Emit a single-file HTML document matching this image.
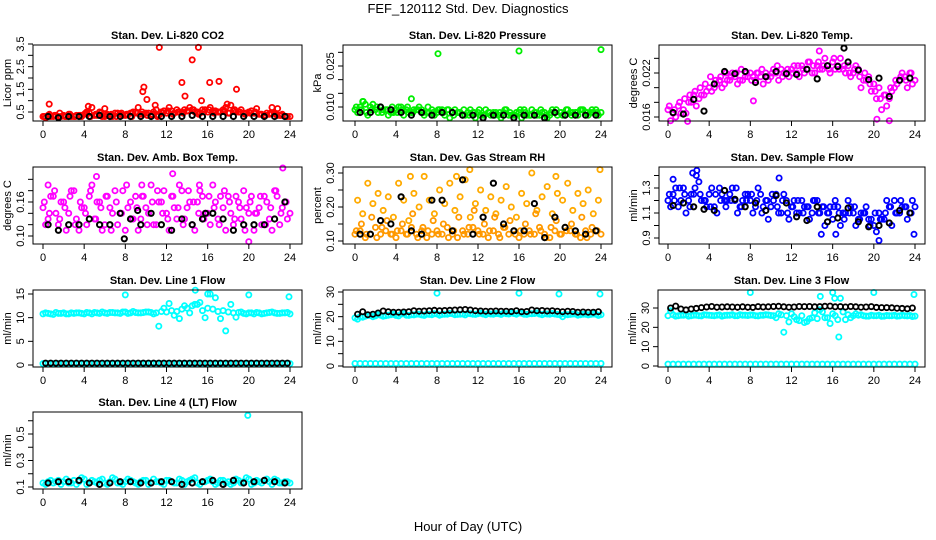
<!DOCTYPE html>
<html><head><meta charset="utf-8">
<style>
html,body{margin:0;padding:0;background:#fff;}
svg{display:block;font-family:"Liberation Sans",Arial,sans-serif;}
</style></head>
<body>
<svg id="chart" width="936" height="540" viewBox="0 0 936 540">
<text x="468" y="13" text-anchor="middle" font-size="13">FEF_120112  Std. Dev. Diagnostics</text>
<text x="468" y="531" text-anchor="middle" font-size="13">Hour of Day (UTC)</text>
</svg>
<script>
// ---- shared x categories (hours) ----
const hoursA = [0,0.5,1,1.5,2,2.5,3,3.5,4,4.5,5,5.5,6,6.5,7,7.5,8,8.5,9,9.5,10,10.5,11,11.5,12,12.5,13,13.5,14,14.5,15,15.5,16,16.5,17,17.5,18,18.5,19,19.5,20,20.5,21,21.5,22,22.5,23,23.5,24];
const hoursB = [0.25,0.75,1.25,1.75,2.25,2.75,3.25,3.75,4.25,4.75,5.25,5.75,6.25,6.75,7.25,7.75,8.25,8.75,9.25,9.75,10.25,10.75,11.25,11.75,12.25,12.75,13.25,13.75,14.25,14.75,15.25,15.75,16.25,16.75,17.25,17.75,18.25,18.75,19.25,19.75,20.25,20.75,21.25,21.75,22.25,22.75,23.25,23.75];
const hoursC = [0.125,0.625,1.125,1.625,2.125,2.625,3.125,3.625,4.125,4.625,5.125,5.625,6.125,6.625,7.125,7.625,8.125,8.625,9.125,9.625,10.125,10.625,11.125,11.625,12.125,12.625,13.125,13.625,14.125,14.625,15.125,15.625,16.125,16.625,17.125,17.625,18.125,18.625,19.125,19.625,20.125,20.625,21.125,21.625,22.125,22.625,23.125,23.625];
const hoursK = [0.5,1.5,2.5,3.5,4.5,5.5,6.5,7.5,8.5,9.5,10.5,11.5,12.5,13.5,14.5,15.5,16.5,17.5,18.5,19.5,20.5,21.5,22.5,23.5];
const xTickLabels = [0,4,8,12,16,20,24];

// ---- P1 CO2 ----
const co2A = [0.3,0.35,0.3,0.3,0.35,0.4,0.3,0.35,0.4,0.45,0.35,0.5,0.3,0.35,0.45,0.4,0.35,0.45,0.5,0.4,0.45,0.35,0.6,0.5,0.45,0.55,0.6,0.5,0.55,0.6,0.5,0.6,0.5,0.55,0.5,0.6,0.45,0.55,0.5,0.45,0.5,0.45,0.4,0.35,0.4,0.45,0.35,0.3,0.3];
const co2B = [0.25,0.3,0.35,0.3,0.3,0.3,0.35,0.3,0.5,0.7,0.35,0.3,0.4,0.3,0.45,0.35,0.4,0.5,0.7,0.4,0.45,0.5,0.35,0.55,0.7,0.45,0.5,0.6,0.7,0.5,0.45,0.6,0.7,0.55,0.5,0.7,0.8,0.5,0.6,0.45,0.55,0.65,0.4,0.45,0.7,0.35,0.4,0.3];
const co2C = [0.3,0.4,0.35,0.45,0.3,0.4,0.3,0.35,0.45,0.3,0.4,0.45,0.35,0.4,0.3,0.45,0.4,0.3,0.45,0.5,0.35,0.4,0.3,0.45,0.55,0.4,0.5,0.45,0.55,0.6,0.4,0.5,0.6,0.45,0.5,0.55,0.45,0.6,0.5,0.4,0.45,0.5,0.4,0.35,0.45,0.4,0.35,0.3];
const co2K = [0.3,0.25,0.3,0.3,0.3,0.35,0.3,0.3,0.3,0.3,0.3,0.3,0.3,0.3,0.35,0.3,0.3,0.3,0.3,0.3,0.3,0.3,0.3,0.3];
const co2OutX = [11.3,15.1,14.5,13.5,16.2,17.1,9.8,9.7,18.8,13.8,10.1,15.4,0.6,10.9,4.4,6,17.9,22.8];
const co2OutY = [3.35,3.35,2.8,1.8,1.8,1.85,1.6,1.4,1.5,1.2,1.05,1.0,0.85,0.8,0.75,0.65,0.85,0.65];

// ---- P2 Pressure ----
const prA = [0.009,0.010,0.011,0.010,0.009,0.010,0.009,0.008,0.009,0.010,0.009,0.008,0.009,0.009,0.008,0.009,0.008,0.009,0.009,0.008,0.008,0.007,0.008,0.008,0.008,0.007,0.008,0.008,0.007,0.008,0.007,0.007,0.008,0.009,0.007,0.008,0.007,0.008,0.007,0.008,0.008,0.007,0.008,0.008,0.009,0.008,0.008,0.009,0.008];
const prB = [0.008,0.012,0.007,0.011,0.008,0.009,0.007,0.008,0.010,0.007,0.008,0.009,0.010,0.007,0.008,0.007,0.009,0.007,0.006,0.009,0.008,0.007,0.009,0.006,0.007,0.009,0.007,0.008,0.006,0.009,0.007,0.008,0.006,0.007,0.009,0.007,0.008,0.006,0.009,0.007,0.007,0.009,0.008,0.007,0.009,0.007,0.008,0.007];
const prC = [0.010,0.009,0.008,0.009,0.010,0.008,0.009,0.010,0.008,0.009,0.010,0.008,0.009,0.008,0.010,0.008,0.009,0.008,0.009,0.007,0.008,0.009,0.007,0.008,0.009,0.007,0.008,0.007,0.008,0.009,0.008,0.007,0.009,0.008,0.007,0.008,0.009,0.007,0.008,0.009,0.008,0.009,0.007,0.008,0.009,0.008,0.009,0.008];
const prK = [0.008,0.008,0.010,0.009,0.008,0.007,0.008,0.007,0.008,0.008,0.007,0.007,0.006,0.007,0.007,0.006,0.007,0.007,0.006,0.008,0.007,0.007,0.007,0.007];
const prOutX = [8.1,16,24,5.5,0.8];
const prOutY = [0.0295,0.0305,0.031,0.013,0.012];

// ---- P3 Li-820 Temp ----
const ltA = [0.017,0.0165,0.0175,0.017,0.018,0.019,0.0185,0.019,0.020,0.020,0.021,0.0205,0.021,0.0215,0.021,0.0215,0.022,0.021,0.0215,0.022,0.0215,0.022,0.0225,0.022,0.0225,0.022,0.023,0.0225,0.022,0.023,0.0225,0.023,0.0235,0.023,0.0225,0.023,0.022,0.0225,0.021,0.0215,0.0205,0.020,0.019,0.0185,0.020,0.021,0.0215,0.022,0.021];
const ltB = [0.0155,0.016,0.0165,0.0165,0.018,0.0175,0.019,0.0195,0.0195,0.0205,0.020,0.021,0.022,0.0205,0.021,0.0215,0.0215,0.022,0.0205,0.021,0.0225,0.021,0.022,0.0215,0.023,0.0215,0.022,0.0235,0.022,0.0225,0.024,0.022,0.0225,0.024,0.022,0.0215,0.023,0.020,0.021,0.0195,0.0185,0.017,0.0175,0.0195,0.0205,0.022,0.020,0.0205];
const ltC = [0.0175,0.017,0.018,0.0185,0.019,0.0195,0.020,0.0205,0.0215,0.021,0.0215,0.022,0.0215,0.022,0.0225,0.022,0.021,0.022,0.0225,0.0215,0.022,0.023,0.0215,0.0225,0.022,0.023,0.0225,0.0235,0.023,0.0235,0.023,0.0225,0.024,0.0225,0.023,0.022,0.0225,0.0215,0.022,0.0205,0.0195,0.0185,0.019,0.020,0.021,0.0215,0.021,0.022];
const ltK = [0.0166,0.0164,0.0184,0.0168,0.0205,0.0222,0.0219,0.0222,0.0207,0.0215,0.0222,0.0219,0.0218,0.0225,0.0212,0.0230,0.0229,0.0235,0.0224,0.0211,0.0213,0.0188,0.0210,0.0213];
const ltOutX = [1.9,20.3,21.5,8.3,14.7];
const ltOutY = [0.0154,0.0157,0.0155,0.0182,0.0250];
const ltKOutX = [17.1];
const ltKOutY = [0.0254];

// ---- P4 Amb Box Temp ----
const abA = [0.15,0.13,0.17,0.12,0.16,0.14,0.18,0.11,0.15,0.17,0.13,0.16,0.12,0.15,0.18,0.14,0.11,0.16,0.17,0.13,0.15,0.19,0.12,0.16,0.14,0.17,0.13,0.18,0.15,0.12,0.16,0.17,0.14,0.19,0.13,0.15,0.17,0.12,0.16,0.18,0.14,0.11,0.15,0.17,0.13,0.18,0.12,0.16,0.14];
const abB = [0.12,0.17,0.14,0.16,0.11,0.18,0.13,0.15,0.12,0.19,0.16,0.11,0.17,0.14,0.12,0.18,0.15,0.13,0.11,0.17,0.14,0.12,0.16,0.18,0.11,0.15,0.19,0.13,0.16,0.11,0.18,0.14,0.12,0.16,0.17,0.11,0.14,0.17,0.13,0.15,0.17,0.14,0.12,0.16,0.11,0.17,0.15,0.13];
const abC = [0.16,0.14,0.18,0.13,0.15,0.17,0.12,0.16,0.14,0.18,0.13,0.15,0.17,0.11,0.16,0.14,0.19,0.13,0.15,0.17,0.12,0.16,0.18,0.14,0.13,0.17,0.15,0.12,0.18,0.16,0.14,0.13,0.17,0.15,0.12,0.18,0.16,0.13,0.15,0.11,0.16,0.14,0.17,0.12,0.15,0.18,0.14,0.16];
const abK = [0.12,0.11,0.12,0.12,0.13,0.12,0.12,0.14,0.13,0.12,0.14,0.12,0.11,0.13,0.12,0.13,0.14,0.13,0.11,0.12,0.12,0.12,0.13,0.16];
const abOutX = [5.2,12.6,23.3,0.5,20,9.6,15.2];
const abOutY = [0.205,0.21,0.22,0.19,0.09,0.19,0.19];
const abKOutX = [7.9,9.2,15.8];
const abKOutY = [0.095,0.145,0.14];

// ---- P5 Gas Stream RH ----
const rhA = [0.12,0.13,0.11,0.12,0.14,0.12,0.13,0.12,0.11,0.13,0.12,0.14,0.12,0.13,0.11,0.12,0.13,0.12,0.14,0.12,0.11,0.13,0.12,0.14,0.13,0.12,0.11,0.13,0.12,0.14,0.12,0.13,0.11,0.12,0.13,0.12,0.14,0.12,0.11,0.13,0.12,0.14,0.13,0.12,0.11,0.13,0.12,0.13,0.12];
const rhB = [0.22,0.18,0.27,0.21,0.24,0.19,0.23,0.17,0.27,0.22,0.16,0.24,0.20,0.29,0.22,0.18,0.25,0.21,0.27,0.19,0.23,0.28,0.17,0.21,0.25,0.19,0.23,0.18,0.22,0.26,0.20,0.17,0.24,0.21,0.30,0.19,0.23,0.26,0.18,0.24,0.22,0.27,0.19,0.24,0.21,0.25,0.18,0.22];
const rhC = [0.13,0.15,0.12,0.17,0.11,0.14,0.16,0.12,0.13,0.15,0.12,0.18,0.11,0.14,0.13,0.16,0.12,0.15,0.11,0.13,0.17,0.12,0.14,0.19,0.12,0.15,0.13,0.17,0.11,0.14,0.16,0.12,0.13,0.15,0.12,0.18,0.13,0.11,0.14,0.16,0.12,0.13,0.15,0.12,0.17,0.11,0.14,0.13];
const rhK = [0.12,0.12,0.16,0.15,0.23,0.13,0.12,0.22,0.22,0.13,0.28,0.12,0.17,0.27,0.15,0.13,0.13,0.21,0.11,0.17,0.14,0.13,0.12,0.13];
const rhOutX = [11.2,23.9,5.4,19.6,9.9];
const rhOutY = [0.31,0.31,0.29,0.29,0.29];

// ---- P6 Sample Flow ----
const sfA = [1.2,1.25,1.15,1.3,1.2,1.25,1.35,1.2,1.25,1.15,1.3,1.2,1.25,1.2,1.15,1.25,1.2,1.15,1.25,1.2,1.15,1.25,1.1,1.2,1.15,1.1,1.2,1.15,1.1,1.2,1.15,1.1,1.05,1.15,1.1,1.2,1.1,1.05,1.1,1.05,1.0,1.1,1.05,1.15,1.2,1.1,1.15,1.1,1.15];
const sfB = [1.15,1.3,1.2,1.1,1.25,1.4,1.2,1.15,1.3,1.1,1.25,1.2,1.3,1.1,1.2,1.25,1.1,1.3,1.15,1.05,1.2,1.1,1.25,1.05,1.2,1.1,1.15,1.05,1.2,1.1,1.0,1.15,1.2,1.0,1.1,1.15,1.0,1.1,1.15,1.05,0.95,1.05,1.2,1.0,1.1,1.15,1.05,1.2];
const sfC = [1.25,1.2,1.3,1.25,1.15,1.3,1.25,1.2,1.15,1.25,1.2,1.15,1.2,1.3,1.15,1.2,1.25,1.2,1.1,1.2,1.25,1.15,1.2,1.1,1.15,1.2,1.1,1.15,1.2,1.1,1.15,1.1,1.15,1.1,1.05,1.1,1.15,1.05,1.1,1.0,1.1,1.05,1.1,1.15,1.1,1.2,1.15,1.1];
const sfK = [1.16,1.18,1.15,1.13,1.12,1.28,1.21,1.15,1.18,1.12,1.24,1.18,1.07,1.04,1.15,1.03,1.06,1.14,1.03,0.99,1.00,1.02,1.12,1.10];
const sfOutX = [2.8,2.4,10.8,20.5,23.9,0.5,16.3,14.9];
const sfOutY = [1.44,1.42,1.38,0.88,0.93,1.37,0.93,0.93];

// ---- P7 Line 1 Flow ----
const l1A = [10.8,10.9,10.7,10.9,11,10.8,10.9,11,10.8,11,11.1,10.9,11,11.1,11,10.9,11.2,11,11.1,11,11.2,11.1,11,11.3,11.2,11.5,11.3,11.8,12,12.5,12.8,11.5,12,11.8,11.3,11.5,11.2,11,11.1,10.9,11,10.8,11,10.9,11.1,11,10.9,11,10.8];
const l1B = [11,10.8,11.1,10.9,10.8,11,11,10.9,11.1,10.8,11,11.2,10.9,11.1,11,11.2,10.9,11.3,11,11.1,11.2,10.8,8.2,12,13,10.5,9.8,12.5,11,12.8,13.2,10,15,14.2,9.8,7.2,12.8,10.1,11.2,10.8,11,11.1,10.8,11,11.2,10.9,11,11.1];
const l1Low = [0.3,0.3,0.3,0.3,0.3,0.3,0.3,0.3,0.3,0.3,0.3,0.3,0.3,0.3,0.3,0.3,0.3,0.3,0.3,0.3,0.3,0.3,0.3,0.3,0.3,0.3,0.3,0.3,0.3,0.3,0.3,0.3,0.3,0.3,0.3,0.3,0.3,0.3,0.3,0.3,0.3,0.3,0.3,0.3,0.3,0.3,0.3,0.3,0.3];
const l1K = [0.4,0.4,0.4,0.4,0.4,0.4,0.4,0.4,0.4,0.4,0.4,0.4,0.4,0.4,0.4,0.4,0.4,0.4,0.4,0.4,0.4,0.4,0.4,0.4,0.4,0.4,0.4,0.4,0.4,0.4,0.4,0.4,0.4,0.4,0.4,0.4,0.4,0.4,0.4,0.4,0.4,0.4,0.4,0.4,0.4,0.4,0.4,0.4];
const l1OutX = [8,20,23.9,16,14.8];
const l1OutY = [14.8,14.8,14.4,15,15.8];

// ---- P8 Line 2 Flow ----
const l2A = [19.5,20,20.2,20.5,20.3,20.6,20.4,20.8,20.5,21,20.6,20.8,21,20.7,21,20.8,21.1,20.9,21,21.2,20.9,21.1,21.3,21,21.2,21.1,21.3,21,21.2,21.4,21.1,21.3,21.5,21,21.2,21.3,21.1,21.2,21,21.1,20.8,21,20.9,21.1,20.8,21,20.9,21,20.8];
const l2B = [19,19.8,20.5,20,20.8,20.2,20.6,21,20.3,21.2,20.5,20.7,21,20.5,20.9,21.2,20.6,21,21.3,20.8,21,20.7,21.2,20.9,21.4,20.8,21.1,21.3,20.9,21.2,21.5,21,21.4,20.9,21.2,21.5,20.8,21.1,21.3,20.9,20,20.8,21.1,20.6,21,20.7,21.1,20.5];
const l2Low = [1,1,1,1,1,1,1,1,1,1,1,1,1,1,1,1,1,1,1,1,1,1,1,1,1,1,1,1,1,1,1,1,1,1,1,1,1,1,1,1,1,1,1,1,1,1,1,1,1];
const l2K = [21,22,20.8,21,21.5,22.3,22,21.8,21.8,21.9,22,22.4,22.2,22.3,22.4,22.6,22.4,22.5,22.6,22.7,22.8,22.9,22.7,22.4,22.3,22.2,22.2,22.3,22.2,22.2,22.1,22.4,22,22.1,22.7,22.4,22.5,22.3,22.4,22.2,22,22.2,22.1,21.8,21.9,21.8,21.8,22];
const l2OutX = [8,16,19.9,23.9];
const l2OutY = [29.5,29.5,29.2,29.2];

// ---- P9 Line 3 Flow ----
const l3A = [26,26.5,26,26.2,25.8,26.3,26,26.5,26.2,26,26.4,26.1,26.3,26,26.5,26.2,26.4,26,26.3,26.5,26.1,25,26.5,26,27,24,26,23,25,24.5,28,25,27,24,28,26.5,26,26.3,26,25.8,26,26.2,25.8,26,26.2,25.9,26,26.1,25.8];
const l3B = [28.5,25.8,26.2,26.5,26,26.3,25.9,26.4,26.1,26.3,25.8,26.2,26.5,26,26.3,26.1,26.4,25.9,26.2,26.4,26,27,17.5,22.8,25.5,23.5,22.5,24.5,27.5,29,25,22,26,35,24,25,27,26.5,25.8,26.2,26,25.7,26.1,26,25.8,26.2,25.9,25.6];
const l3Low = [1,1,1,1,1,1,1,1,1,1,1,1,1,1,1,1,1,1,1,1,1,1,1,1,1,1,1,1,1,1,1,1,1,1,1,1,1,1,1,1,1,1,1,1,1,1,1,1,1];
const l3K = [30,31,29.5,29,29.5,29.8,30.2,30.5,30.8,30.4,30.5,30.6,30.5,30.4,30.6,30.4,30.3,30.7,30.5,30.6,30.8,30.9,30.6,30.4,30.5,30.8,30.7,30.8,30.6,30.7,30.9,31,30.6,30.7,30.5,30.8,30.6,30.4,30.5,30.7,30.3,30.2,30.2,30.1,29.9,29.8,29.6,30];
const l3OutX = [8,16,20,23.9,14.8,16.2,16.6];
const l3OutY = [38,38,38,37,36,35,15];

// ---- P10 Line 4 (LT) Flow ----
const l4A = [0.13,0.14,0.13,0.15,0.14,0.13,0.15,0.14,0.16,0.13,0.14,0.15,0.13,0.14,0.16,0.13,0.14,0.15,0.13,0.14,0.15,0.13,0.14,0.13,0.15,0.14,0.13,0.15,0.14,0.16,0.13,0.14,0.15,0.14,0.13,0.15,0.14,0.13,0.15,0.14,0.16,0.13,0.14,0.15,0.14,0.16,0.13,0.14,0.13];
const l4B = [0.12,0.15,0.14,0.12,0.16,0.13,0.12,0.17,0.12,0.15,0.13,0.16,0.12,0.17,0.13,0.12,0.16,0.14,0.12,0.15,0.12,0.16,0.14,0.12,0.15,0.13,0.16,0.12,0.15,0.17,0.12,0.14,0.16,0.12,0.15,0.13,0.12,0.16,0.13,0.17,0.12,0.15,0.13,0.16,0.12,0.15,0.13,0.14];
const l4K = [0.13,0.14,0.14,0.15,0.13,0.12,0.13,0.14,0.14,0.13,0.13,0.14,0.14,0.12,0.13,0.14,0.15,0.12,0.15,0.13,0.14,0.15,0.14,0.13];
const l4OutX = [19.9];
const l4OutY = [0.64];

const NS = 'http://www.w3.org/2000/svg';
const svg = document.getElementById('chart');
function mk(tag, attrs, parent){
  const e = document.createElementNS(NS, tag);
  for (const k in attrs) e.setAttribute(k, attrs[k]);
  (parent || svg).appendChild(e);
  return e;
}
function scale(d0, d1, p0, p1){ return v => p0 + (v - d0) * (p1 - p0) / (d1 - d0); }

function panel(cfg){
  const g = mk('g', {});
  
  
  const [L, T, R, B] = cfg.box;
  const xs = scale(0, 24, cfg.x0, cfg.x24);
  const ys = scale(cfg.yv[0], cfg.yv[1], cfg.yp[0], cfg.yp[1]);
  const t = mk('text', {x: (L+R)/2, y: T - 6, 'text-anchor':'middle', 'font-size':'11', 'font-weight':'bold'}, g);
  t.textContent = cfg.title;
  
  
  const pts = mk('g', {}, g);
  
  
  cfg.series.forEach(s => {
    s.x.forEach((xv, i) => {
      const yv = s.y[i];
      const c = mk('circle', {cx: xs(xv).toFixed(1), cy: ys(yv).toFixed(1), r: s.r || 2.6, fill: 'none', stroke: s.color, 'stroke-width': s.w || 1.8}, pts);
      
      
    });
  });
  const bx = mk('rect', {x: L, y: T, width: R-L, height: B-T, fill: 'none', stroke: '#000', 'stroke-width': 1}, g);
  
  
  const xa = mk('g', {}, g);
  
  
  xTickLabels.forEach(v => {
    const px = xs(v);
    mk('line', {x1: px, x2: px, y1: B, y2: B + 5, stroke: '#000'}, xa);
    const tl = mk('text', {x: px, y: B + 17, 'text-anchor':'middle', 'font-size':'11'}, xa);
    tl.textContent = v;
    
    
  });
  const ya = mk('g', {}, g);
  
  
  cfg.yTicks.forEach(v => {
    const py = ys(v);
    mk('line', {x1: L - 5, x2: L, y1: py, y2: py, stroke: '#000'}, ya);
  });
  cfg.yLabels.forEach(v => {
    const py = ys(parseFloat(v));
    const tl = mk('text', {x: 0, y: 0, 'text-anchor':'middle', 'font-size':'11', transform: `translate(${L - 9},${py}) rotate(-90)`}, ya);
    tl.textContent = v;
    
    
  });
  const yt = mk('text', {x: 0, y: 0, 'text-anchor':'middle', 'font-size':'11', transform: `translate(${L - 22},${(T+B)/2}) rotate(-90)`}, g);
  yt.textContent = cfg.ylab;
  
  
}

const K = '#000';
panel({name:'panel-co2', title:'Stan. Dev. Li-820 CO2', ylab:'Licor ppm', box:[33,45,302,121], x0:43, x24:290,
  yv:[0.5,3.5], yp:[112,44], yTicks:[0.5,1,1.5,2,2.5,3,3.5], yLabels:['0.5','1.5','2.5','3.5'],
  series:[{name:'co2-point',x:hoursA,y:co2A,color:'#ff0000'},{name:'co2-point',x:hoursB,y:co2B,color:'#ff0000'},
    {name:'co2-point',x:hoursC,y:co2C,color:'#ff0000'},
    {name:'co2-outlier',x:co2OutX,y:co2OutY,color:'#ff0000'},{name:'co2-hourly-point',x:hoursK,y:co2K,color:K,w:2}]});
panel({name:'panel-pressure', title:'Stan. Dev. Li-820 Pressure', ylab:'kPa', box:[343,45,612,121], x0:355, x24:601,
  yv:[0.010,0.025], yp:[107,66], yTicks:[0.010,0.015,0.020,0.025,0.030], yLabels:['0.010','0.025'],
  series:[{name:'pressure-point',x:hoursA,y:prA,color:'#00ee00'},{name:'pressure-point',x:hoursB,y:prB,color:'#00ee00'},
    {name:'pressure-point',x:hoursC,y:prC,color:'#00ee00'},
    {name:'pressure-outlier',x:prOutX,y:prOutY,color:'#00ee00'},{name:'pressure-hourly-point',x:hoursK,y:prK,color:K,w:2}]});
panel({name:'panel-li820-temp', title:'Stan. Dev. Li-820 Temp.', ylab:'degrees C', box:[659,45,925,121], x0:668, x24:915,
  yv:[0.016,0.022], yp:[117,73], yTicks:[0.016,0.018,0.020,0.022,0.024], yLabels:['0.016','0.022'],
  series:[{name:'temp-point',x:hoursA,y:ltA,color:'#ff00ff'},{name:'temp-point',x:hoursB,y:ltB,color:'#ff00ff'},
    {name:'temp-point',x:hoursC,y:ltC,color:'#ff00ff'},
    {name:'temp-outlier',x:ltOutX,y:ltOutY,color:'#ff00ff'},{name:'temp-hourly-point',x:hoursK,y:ltK,color:K,w:2},
    {name:'temp-hourly-outlier',x:ltKOutX,y:ltKOutY,color:K,w:2}]});
panel({name:'panel-amb-box-temp', title:'Stan. Dev. Amb. Box Temp.', ylab:'degrees C', box:[33,167,302,244], x0:43, x24:290,
  yv:[0.10,0.16], yp:[236,202], yTicks:[0.10,0.12,0.14,0.16,0.18,0.20], yLabels:['0.10','0.16'],
  series:[{name:'amb-point',x:hoursA,y:abA,color:'#ff00ff'},{name:'amb-point',x:hoursB,y:abB,color:'#ff00ff'},
    {name:'amb-point',x:hoursC,y:abC,color:'#ff00ff'},
    {name:'amb-outlier',x:abOutX,y:abOutY,color:'#ff00ff'},{name:'amb-hourly-point',x:hoursK,y:abK,color:K,w:2},
    {name:'amb-hourly-outlier',x:abKOutX,y:abKOutY,color:K,w:2}]});
panel({name:'panel-gas-rh', title:'Stan. Dev. Gas Stream RH', ylab:'percent', box:[343,167,612,244], x0:355, x24:601,
  yv:[0.10,0.30], yp:[241,173], yTicks:[0.10,0.15,0.20,0.25,0.30], yLabels:['0.10','0.20','0.30'],
  series:[{name:'rh-point',x:hoursA,y:rhA,color:'#ff9900'},{name:'rh-point',x:hoursB,y:rhB,color:'#ffaa00'},
    {name:'rh-point',x:hoursC,y:rhC,color:'#ff9900'},
    {name:'rh-outlier',x:rhOutX,y:rhOutY,color:'#ffaa00'},{name:'rh-hourly-point',x:hoursK,y:rhK,color:K,w:2}]});
panel({name:'panel-sample-flow', title:'Stan. Dev. Sample Flow', ylab:'ml/min', box:[659,167,925,244], x0:668, x24:915,
  yv:[0.9,1.3], yp:[238,188], yTicks:[0.9,1.0,1.1,1.2,1.3,1.4], yLabels:['0.9','1.1','1.3'],
  series:[{name:'flow-point',x:hoursA,y:sfA,color:'#0000ff'},{name:'flow-point',x:hoursB,y:sfB,color:'#0000ff'},
    {name:'flow-point',x:hoursC,y:sfC,color:'#0000ff'},
    {name:'flow-outlier',x:sfOutX,y:sfOutY,color:'#0000ff'},{name:'flow-hourly-point',x:hoursK,y:sfK,color:K,w:2}]});
panel({name:'panel-line1-flow', title:'Stan. Dev. Line 1 Flow', ylab:'ml/min', box:[33,290,302,367], x0:43, x24:290,
  yv:[0,15], yp:[365,294], yTicks:[0,5,10,15], yLabels:['0','5','10','15'],
  series:[{name:'line1-point',x:hoursA,y:l1A,color:'#00ffff'},{name:'line1-point',x:hoursB,y:l1B,color:'#00ffff'},
    {name:'line1-outlier',x:l1OutX,y:l1OutY,color:'#00ffff'},{name:'line1-low-point',x:hoursA,y:l1Low,color:'#00ffff'},
    {name:'line1-hourly-point',x:hoursB,y:l1K,color:K,w:1.8}]});
panel({name:'panel-line2-flow', title:'Stan. Dev. Line 2 Flow', ylab:'ml/min', box:[343,290,612,367], x0:355, x24:601,
  yv:[0,30], yp:[366,292], yTicks:[0,5,10,15,20,25,30], yLabels:['0','10','20','30'],
  series:[{name:'line2-point',x:hoursA,y:l2A,color:'#00ffff'},{name:'line2-point',x:hoursB,y:l2B,color:'#00ffff'},
    {name:'line2-outlier',x:l2OutX,y:l2OutY,color:'#00ffff'},{name:'line2-low-point',x:hoursA,y:l2Low,color:'#00ffff'},
    {name:'line2-hourly-point',x:hoursB,y:l2K,color:K,w:1.8}]});
panel({name:'panel-line3-flow', title:'Stan. Dev. Line 3 Flow', ylab:'ml/min', box:[658,290,925,367], x0:668, x24:915,
  yv:[0,30], yp:[366,308], yTicks:[0,10,20,30], yLabels:['0','10','20','30'],
  series:[{name:'line3-point',x:hoursA,y:l3A,color:'#00ffff'},{name:'line3-point',x:hoursB,y:l3B,color:'#00ffff'},
    {name:'line3-outlier',x:l3OutX,y:l3OutY,color:'#00ffff'},{name:'line3-low-point',x:hoursA,y:l3Low,color:'#00ffff'},
    {name:'line3-hourly-point',x:hoursB,y:l3K,color:K,w:1.8}]});
panel({name:'panel-line4-flow', title:'Stan. Dev. Line 4 (LT) Flow', ylab:'ml/min', box:[33,412,302,489], x0:43, x24:290,
  yv:[0.1,0.5], yp:[487,434], yTicks:[0.1,0.2,0.3,0.4,0.5,0.6], yLabels:['0.1','0.3','0.5'],
  series:[{name:'line4-point',x:hoursA,y:l4A,color:'#00ffff'},{name:'line4-point',x:hoursB,y:l4B,color:'#00ffff'},
    {name:'line4-outlier',x:l4OutX,y:l4OutY,color:'#00ffff'},{name:'line4-hourly-point',x:hoursK,y:l4K,color:K,w:2}]});
</script>
</body></html>
